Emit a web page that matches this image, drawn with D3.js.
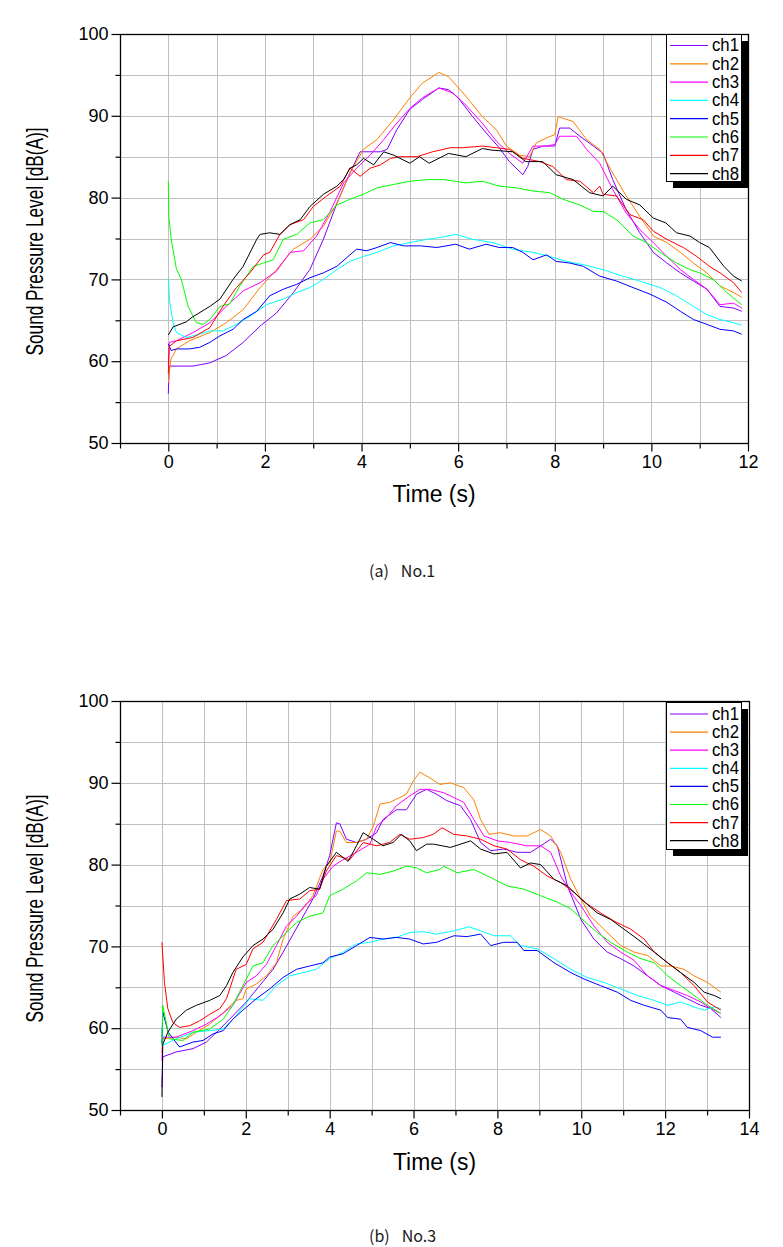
<!DOCTYPE html>
<html><head><meta charset="utf-8">
<script src="https://cdn.jsdelivr.net/npm/d3@7"></script>
<style>body{margin:0;background:#fff} svg{display:block}</style>
</head><body>
<svg id="c" width="783" height="1247"></svg>
<script>
// ---------- shared labels ----------
const seriesNames = ["ch1","ch2","ch3","ch4","ch5","ch6","ch7","ch8"];
const seriesColors = ["#8000ff","#ff8000","#ff00ff","#00ffff","#0000ff","#00ff00","#ff0000","#000000"];
const yTickLabels = [50,60,70,80,90,100];
const xTickLabelsA = [0,2,4,6,8,10,12];
const xTickLabelsB = [0,2,4,6,8,10,12,14];
const yTitle = "Sound Pressure Level [dB(A)]";
const xTitle = "Time (s)";
const captionA = ["(a)","No.1"];
const captionB = ["(b)","No.3"];

// ---------- (a) No.1 ----------
const a_ch1_t = [0,0.02,0.51,0.86,1.2,1.55,1.9,2.24,2.59,2.93,3.21,3.49,3.76,3.97,4.18,4.39,4.53,4.73,5.0,5.26,5.6,5.8,6.0,6.3,6.58,6.85,7.06,7.34,7.44,7.55,7.76,8.0,8.1,8.31,8.52,8.8,9.0,9.2,9.48,9.76,10.04,10.32,10.6,10.87,11.15,11.42,11.7,11.87];
const a_ch1_v = [56,59.4,59.4,59.8,60.7,62.3,64.3,65.9,68.4,71.2,74.9,79.3,83,85.6,85.6,85.6,85.9,88.3,90.8,92,93.4,93.2,92.2,89.9,87.9,86.1,84.4,82.8,83.8,85.9,86.3,86.3,88.5,88.5,87.5,86.3,85.4,82.2,78.5,75.7,73.3,72,70.8,69.8,68.8,66.7,66.5,66.1];
const a_ch2_t = [0,0.05,0.17,0.44,0.86,1.2,1.55,1.9,2.24,2.59,2.93,3.21,3.49,3.76,4.04,4.32,4.66,5.0,5.26,5.6,5.8,6.16,6.5,6.79,7.0,7.27,7.48,7.62,7.83,8.0,8.07,8.17,8.38,8.66,8.93,9.2,9.48,9.76,10.04,10.32,10.6,10.87,11.15,11.42,11.7,11.87];
const a_ch2_v = [57.4,60.2,61.5,62.5,63.5,64.7,66.3,69,71.2,73.7,74.9,76.5,79.3,83,85.9,87.1,89.5,92.2,94,95.3,94.8,92.4,89.9,88.3,86.3,85.2,85,86.7,87.3,87.7,89.9,89.7,89.3,87.1,85.9,83,80.2,77.7,75.3,74.5,73.3,72,70.8,69.2,68.4,67.8];
const a_ch3_t = [0,0.02,0.17,0.51,0.86,1.2,1.55,1.9,2.24,2.52,2.8,3.07,3.35,3.63,3.9,4.18,4.46,4.73,5.0,5.26,5.6,5.89,6.16,6.5,6.79,7.06,7.34,7.55,7.83,8.0,8.1,8.24,8.45,8.66,8.93,9.2,9.48,9.76,10.04,10.32,10.6,10.87,11.15,11.42,11.7,11.87];
const a_ch3_v = [59.5,62.3,62.5,63.5,64.7,66.7,68.6,69.6,71,73.3,73.5,75.3,78.3,81.8,83.6,85.2,87.1,89.1,90.9,92.2,93.4,92.8,91.3,89.1,86.9,85.4,84.2,86.3,86.3,86.5,87.5,87.5,87.5,85.9,84.2,81,78.1,76.1,74.5,72.8,71.2,70,68.8,66.9,67.1,66.5];
const a_ch4_t = [0,0.03,0.1,0.17,0.37,0.65,0.86,1.13,1.41,1.69,2.03,2.38,2.66,2.93,3.21,3.49,3.76,4.04,4.32,4.66,5.0,5.36,5.6,5.95,6.3,6.72,7.13,7.55,7.9,8.24,8.59,9.0,9.35,9.76,10.18,10.52,10.87,11.15,11.42,11.7,11.87];
const a_ch4_v = [70.2,67.2,64.7,63.5,62.9,63.3,63.7,63.7,64.5,65.5,66.9,67.6,68.4,69,70,71.2,72.2,72.8,73.3,74.1,74.5,74.9,75.1,75.5,74.9,74.5,73.7,73.3,72.8,72.2,71.8,71.2,70.5,69.8,69,68,66.7,65.7,65.1,64.7,64.4];
const a_ch5_t = [0,0.06,0.17,0.44,0.65,0.86,1.07,1.34,1.55,1.83,2.1,2.38,2.66,2.93,3.21,3.49,3.76,3.9,4.11,4.32,4.6,4.87,5.22,5.56,5.95,6.23,6.58,6.85,7.13,7.34,7.55,7.83,8.03,8.31,8.59,8.93,9.28,9.62,9.97,10.32,10.6,10.87,11.15,11.42,11.7,11.87];
const a_ch5_v = [62.1,61.3,61.5,61.5,61.7,62.3,63.1,63.9,65.1,66.1,68,68.8,69.4,70.2,70.8,71.6,73,73.7,73.5,73.9,74.5,74.1,74.1,73.9,74.3,73.7,74.3,73.9,73.9,73.3,72.4,73,72.2,72,71.6,70.4,69.8,69,68.2,67.2,66.1,65.1,64.5,63.9,63.7,63.3];
const a_ch6_t = [0,0.01,0.06,0.17,0.27,0.41,0.58,0.72,0.86,1.07,1.27,1.48,1.76,1.97,2.17,2.38,2.66,2.93,3.21,3.49,3.76,4.04,4.32,4.66,5.0,5.36,5.7,6.16,6.51,6.85,7.2,7.55,7.9,8.17,8.52,8.8,9.0,9.28,9.62,9.9,10.18,10.52,10.8,11.0,11.28,11.56,11.87];
const a_ch6_v = [82,77.7,74.9,71.2,70,66.7,64.7,64.5,65.1,66.7,67,69.2,71.6,72,72.4,74.9,75.5,76.9,77.3,79.1,79.8,80.4,81.2,81.6,82,82.2,82.2,81.8,82,81.4,81.2,80.8,80.6,79.8,79.1,78.3,78.3,77.3,75.3,74.5,73.3,72,71.2,70.8,70,68.4,66.9];
const a_ch7_t = [0,0.02,0.17,0.51,0.86,1.13,1.41,1.69,1.97,2.1,2.31,2.52,2.8,3.0,3.28,3.56,3.76,3.97,4.18,4.39,4.6,4.8,5.15,5.47,5.84,6.1,6.5,6.79,7.06,7.34,7.69,7.96,8.24,8.52,8.8,8.93,9.0,9.28,9.56,9.83,10.04,10.32,10.66,10.94,11.2,11.42,11.7,11.87];
const a_ch7_v = [58.5,61.8,62.5,62.9,64.1,66.7,69,70.8,73,73.3,75.5,76.7,77.3,78.9,80.2,81.4,83.6,82.6,83.6,84,84.8,85,85,85.6,86.1,86.1,86.3,86.1,85.9,84.8,84.4,83.8,82.2,82,80.6,81.4,80.4,80.2,77.9,77.3,75.9,74.9,73.9,72.8,71.6,70.8,69.6,68.4];
const a_ch8_t = [0,0.1,0.37,0.5,0.86,1.07,1.34,1.55,1.83,1.9,2.1,2.31,2.52,2.73,2.93,3.21,3.49,3.63,3.76,3.9,4.04,4.25,4.46,4.66,5.0,5.2,5.4,5.8,6.16,6.5,6.7,7.13,7.4,7.75,8.03,8.38,8.72,9.0,9.2,9.48,9.76,10.04,10.3,10.52,10.8,11.0,11.2,11.5,11.7,11.87];
const a_ch8_v = [63.2,64.2,64.8,65.4,66.7,67.6,70,71.6,74.9,75.5,75.7,75.5,76.7,77.3,78.9,80.4,81.4,82.2,83.6,84,84.8,84,85.6,85.2,84.2,85,84.2,85.4,85,86,85.8,85.6,84.4,84.4,82.8,82.2,80.6,80.2,81.4,79.8,79.1,77.5,76.9,75.7,75.3,74.5,73.9,71.6,70.4,69.8];

// ---------- (b) No.3 ----------
const b_ch1_t = [0,0.02,0.34,0.74,1.06,1.38,1.69,2.01,2.33,2.65,2.89,3.13,3.37,3.6,3.84,4.0,4.16,4.24,4.4,4.64,4.88,5.12,5.27,5.59,5.83,6.07,6.31,6.55,6.8,7.12,7.36,7.6,7.84,8.15,8.47,8.79,9.03,9.27,9.43,9.67,9.99,10.3,10.62,10.94,11.26,11.58,11.9,12.22,12.53,12.85,13.09,13.33];
const b_ch1_v = [52.8,56.5,57.1,57.5,58.3,59.9,61.5,63.2,65.2,67.2,69.3,71.5,73.7,75.8,78.6,81.1,85.1,85,83.1,82.7,83.1,83.9,85.5,86.7,86.7,88.6,89.2,88.6,87.8,87.2,85.5,82.7,81.7,81.9,81.5,81.5,82.3,83.1,82.3,77.4,73.3,70.9,69.3,68.5,67.6,66.4,65.2,64.4,63.6,62.8,62.4,61.3];
const b_ch2_t = [0,0.02,0.34,0.58,0.82,1.14,1.46,1.77,1.93,2.01,2.25,2.49,2.73,2.89,3.13,3.37,3.6,3.84,4.0,4.16,4.24,4.4,4.64,4.88,5.04,5.2,5.43,5.67,5.83,5.99,6.15,6.39,6.63,6.88,7.2,7.44,7.6,7.8,8.07,8.39,8.71,9.03,9.27,9.51,9.75,9.99,10.22,10.54,10.94,11.26,11.58,11.9,12.14,12.45,12.69,13.01,13.33];
const b_ch2_v = [57,58.7,58.9,58.7,59.5,60.5,61.9,63.4,63.6,64.8,65.4,66.4,68,70.9,73.7,74.6,76.2,79.4,80.2,84.1,84.1,82.7,82.7,83.1,84.7,87.4,87.6,88.2,88.6,90.2,91.3,90.6,89.8,90,89.4,87.9,85.5,83.7,83.9,83.5,83.5,84.3,83.5,81.5,78.2,75.8,73.7,72.1,70.1,69.3,68.9,67.6,67.6,67.2,66.4,65.6,64.4];
const b_ch3_t = [0,0.02,0.34,0.74,1.06,1.38,1.69,2.01,2.25,2.49,2.73,2.97,3.21,3.44,3.68,3.84,4.08,4.32,4.64,4.96,5.12,5.35,5.59,5.91,6.15,6.39,6.71,6.88,7.2,7.44,7.68,8.0,8.31,8.71,9.03,9.27,9.51,9.75,9.99,10.3,10.62,10.94,11.26,11.58,11.9,12.22,12.53,12.85,13.09,13.33];
const b_ch3_v = [56,58.9,58.9,59.7,60.5,61.5,62.8,65.6,66.4,67.8,70.1,72.5,73.7,75.2,76.2,78.2,79.8,80.6,81.5,82.5,84.7,85.7,87.2,88.4,89.2,89.2,88.8,88.4,87.6,85.5,83.5,82.9,82.7,82.3,82.3,81.5,78.6,76.6,75,72.5,70.5,69.3,68.3,66.4,65.2,64.6,64,63.2,62.4,61.8];
const b_ch4_t = [0,0.02,0.34,0.74,1.14,1.46,1.77,2.09,2.41,2.73,3.05,3.37,3.68,4.0,4.32,4.64,4.96,5.27,5.59,5.91,6.23,6.55,6.96,7.32,7.6,7.92,8.31,8.55,8.95,9.35,9.75,10.14,10.54,10.94,11.34,11.74,12.06,12.37,12.69,12.93,13.17,13.33];
const b_ch4_v = [60,57.9,58.7,59.5,59.7,59.9,61.5,63.6,63.4,65.2,66.4,66.8,67.2,68.5,69.3,70.3,70.5,70.9,71.1,71.7,71.8,71.5,71.9,72.4,71.9,71.3,71.3,70.1,69.7,68.5,67.2,66.2,65.6,64.8,64,63.4,62.8,63.2,62.6,62.2,62.6,62.4];
const b_ch5_t = [0,0.02,0.15,0.42,0.74,0.98,1.22,1.46,1.69,1.93,2.25,2.57,2.89,3.21,3.52,3.84,4.0,4.32,4.64,4.96,5.27,5.59,5.91,6.23,6.55,6.96,7.28,7.6,7.84,8.15,8.47,8.63,8.95,9.35,9.75,10.07,10.46,10.86,11.18,11.5,11.9,12.06,12.37,12.53,12.85,13.13,13.33];
const b_ch5_v = [58,62,59.5,57.7,58.3,58.5,59.3,59.7,61.1,62.2,63.6,64.8,66.2,67.2,67.6,68,68.7,69.1,70.1,71.1,70.9,71.1,70.9,70.3,70.5,71.3,71.2,71.5,70.1,70.5,70.5,69.5,69.5,68,66.8,66,65.2,64.4,63.4,62.8,62.2,61.3,61.1,60.1,59.7,58.9,58.9];
const b_ch6_t = [0,0.02,0.18,0.5,0.74,1.14,1.46,1.69,1.93,2.17,2.41,2.65,2.97,3.21,3.52,3.84,4.0,4.32,4.64,4.88,5.2,5.51,5.83,6.07,6.31,6.63,6.72,7.04,7.44,7.84,8.23,8.63,9.03,9.43,9.75,10.07,10.38,10.7,11.1,11.42,11.74,12.06,12.37,12.69,13.01,13.33];
const b_ch6_v = [58,62.8,58.7,58.5,59.5,59.9,61.1,62.8,65.2,67.6,68,70.1,71.7,72.9,73.7,74.1,76.2,77,78,79,78.8,79.2,79.8,79.6,79,79.4,79.8,79,79.4,78.4,77.4,77,76.2,75.4,74.6,73.1,71.7,70.5,69.3,68.5,68,66.4,65.2,64,62.8,61.8];
const b_ch7_t = [0,0.06,0.14,0.26,0.42,0.66,0.9,1.14,1.38,1.54,1.77,2.01,2.17,2.41,2.73,2.97,3.29,3.52,3.76,3.92,4.16,4.48,4.8,5.12,5.43,5.67,5.91,6.23,6.47,6.68,6.96,7.28,7.6,7.92,8.23,8.55,8.87,9.19,9.51,9.83,10.14,10.46,10.78,11.18,11.5,11.74,12.06,12.37,12.69,13.01,13.33];
const b_ch7_v = [70.5,65.6,62.4,60.7,60.1,60.3,60.9,61.7,62.4,63.6,67.2,67.8,69.7,70.5,73.3,75.6,75.8,76.8,77,79.2,81.1,80.6,82.7,82.3,82.7,83.7,83.1,83.3,83.7,84.5,83.7,83.5,83.1,82.3,81.9,80.6,79.8,78.6,77.8,76.6,75.2,74.1,73.1,72.1,70.9,69.3,68,66.8,65.2,63.2,62.2];
const b_ch8_t = [0,0.02,0.14,0.34,0.58,0.82,1.14,1.38,1.54,1.69,1.93,2.17,2.41,2.65,2.89,3.05,3.29,3.52,3.76,3.92,4.16,4.44,4.64,4.8,5.04,5.27,5.51,5.71,5.91,6.07,6.31,6.48,6.88,7.36,7.6,7.92,8.23,8.55,8.79,9.03,9.35,9.67,9.99,10.38,10.7,11.02,11.34,11.74,12.06,12.37,12.69,12.93,13.17,13.33];
const b_ch8_v = [51.6,58,59.5,61.1,62.2,62.8,63.4,64,65.2,66.8,68.7,70.1,70.9,72.1,74.1,75.8,76.4,77.2,77,79.8,81.5,80.4,82.3,83.9,83.1,82.3,82.7,83.7,82.9,81.7,82.5,82.5,82.1,82.9,81.9,81.3,81.5,79.6,80.2,80,78.2,77.4,75.8,74.1,73.3,72.1,70.9,69.3,68,66.8,65.6,64.4,64,63.6];

const seriesA = [[a_ch1_t,a_ch1_v],[a_ch2_t,a_ch2_v],[a_ch3_t,a_ch3_v],[a_ch4_t,a_ch4_v],[a_ch5_t,a_ch5_v],[a_ch6_t,a_ch6_v],[a_ch7_t,a_ch7_v],[a_ch8_t,a_ch8_v]];
const seriesB = [[b_ch1_t,b_ch1_v],[b_ch2_t,b_ch2_v],[b_ch3_t,b_ch3_v],[b_ch4_t,b_ch4_v],[b_ch5_t,b_ch5_v],[b_ch6_t,b_ch6_v],[b_ch7_t,b_ch7_v],[b_ch8_t,b_ch8_v]];

const svg = d3.select("#c");
const FONT = "'Liberation Sans', Arial, sans-serif";

function drawChart(cfg, series, xLabels, caption, id){
  const x = d3.scaleLinear().domain(cfg.xd).range([cfg.l, cfg.r]);
  const y = d3.scaleLinear().domain([50,100]).range([cfg.b, cfg.t]);
  const g = svg.append("g");

  // grid
  const xGrid = d3.range(cfg.xd[0]+1, cfg.xd[1]);
  const yGrid = d3.range(55, 100, 5);
  g.append("g").selectAll("line").data(xGrid).join("line")
    .attr("x1", d => Math.round(x(d))+0.5).attr("x2", d => Math.round(x(d))+0.5)
    .attr("y1", cfg.t).attr("y2", cfg.b).attr("stroke", "#c0c0c0").attr("stroke-width", 1);
  g.append("g").selectAll("line").data(yGrid).join("line")
    .attr("y1", d => Math.round(y(d))+0.5).attr("y2", d => Math.round(y(d))+0.5)
    .attr("x1", cfg.l).attr("x2", cfg.r).attr("stroke", "#c0c0c0").attr("stroke-width", 1);

  // clip
  svg.append("clipPath").attr("id", "clip"+id).append("rect")
    .attr("x", cfg.l).attr("y", cfg.t).attr("width", cfg.r-cfg.l).attr("height", cfg.b-cfg.t);

  const line = d3.line().x(d => x(d[0])).y(d => y(d[1]));
  const lg = g.append("g").attr("clip-path", "url(#clip"+id+")");
  series.forEach((s, i) => {
    const pts = s[0].map((t, k) => [t, s[1][k]]);
    lg.append("path").datum(pts).attr("d", line)
      .attr("fill", "none").attr("stroke", seriesColors[i]).attr("stroke-width", 1)
      .attr("stroke-linejoin", "round");
  });

  // box
  g.append("rect").attr("x", Math.round(cfg.l)+0.5).attr("y", Math.round(cfg.t)+0.5)
    .attr("width", Math.round(cfg.r)-Math.round(cfg.l)).attr("height", Math.round(cfg.b)-Math.round(cfg.t))
    .attr("fill", "none").attr("stroke", "#000").attr("stroke-width", 1.3);

  // y axis
  const yAx = g.append("g").attr("transform", `translate(${Math.round(cfg.l)+0.5},0)`)
    .call(d3.axisLeft(y).tickValues(yTickLabels).tickSize(9).tickSizeOuter(0).tickPadding(3).tickFormat(d3.format("d")));
  yAx.select(".domain").remove();
  yAx.selectAll("text").attr("font-family", FONT).attr("font-size", 18).attr("fill", "#000");
  yAx.selectAll("line").attr("stroke-width", 1.2);
  const yMin = g.append("g").attr("transform", `translate(${Math.round(cfg.l)+0.5},0)`)
    .call(d3.axisLeft(y).tickValues([55,65,75,85,95]).tickSize(5).tickFormat(""));
  yMin.select(".domain").remove();
  yMin.selectAll("line").attr("stroke-width", 1.2);

  // x axis
  const xAx = g.append("g").attr("transform", `translate(0,${Math.round(cfg.b)+0.5})`)
    .call(d3.axisBottom(x).tickValues(xLabels).tickSize(8).tickSizeOuter(0).tickPadding(4).tickFormat(d3.format("d")));
  xAx.select(".domain").remove();
  xAx.selectAll("text").attr("font-family", FONT).attr("font-size", 18).attr("fill", "#000");
  xAx.selectAll("line").attr("stroke-width", 1.2);
  const xMinor = d3.range(cfg.xd[0], cfg.xd[1]+1).filter(v => xLabels.indexOf(v) < 0);
  const xMin = g.append("g").attr("transform", `translate(0,${Math.round(cfg.b)+0.5})`)
    .call(d3.axisBottom(x).tickValues(xMinor).tickSize(5).tickFormat(""));
  xMin.select(".domain").remove();
  xMin.selectAll("line").attr("stroke-width", 1.2);

  // titles
  const cx = (cfg.l + cfg.r)/2, cy = (cfg.t + cfg.b)/2;
  g.append("text").attr("x", cx).attr("y", cfg.b + cfg.xTitleDy)
    .attr("text-anchor", "middle").attr("font-family", FONT).attr("font-size", 23)
    .attr("textLength", 83).attr("lengthAdjust", "spacingAndGlyphs").text(xTitle);
  g.append("text").attr("transform", `translate(${cfg.yTitleX},${cy + 3}) rotate(-90)`)
    .attr("text-anchor", "middle").attr("font-family", FONT).attr("font-size", 24)
    .attr("textLength", 228).attr("lengthAdjust", "spacingAndGlyphs").text(yTitle);

  // legend
  const L = cfg.leg;
  g.append("rect").attr("x", L.x + 7).attr("y", L.y + 7).attr("width", L.w).attr("height", L.h).attr("fill", "#000");
  g.append("rect").attr("x", L.x+0.5).attr("y", L.y+0.5).attr("width", L.w).attr("height", L.h)
    .attr("fill", "#fff").attr("stroke", "#000").attr("stroke-width", 1);
  const items = g.append("g").selectAll("g").data(seriesNames).join("g")
    .attr("transform", (d, i) => `translate(0,${L.y + L.first + i*L.step})`);
  items.append("line").attr("x1", L.x + 4).attr("x2", L.x + 42).attr("y1", 0.5).attr("y2", 0.5)
    .attr("stroke", (d, i) => seriesColors[i]).attr("stroke-width", 1.2);
  items.append("text").attr("x", L.x + 46).attr("y", 0).attr("dy", "0.36em")
    .attr("font-family", FONT).attr("font-size", 18)
    .attr("textLength", 27).attr("lengthAdjust", "spacingAndGlyphs").text(d => d);

  // caption
  const ct = svg.append("text").attr("x", cfg.capX).attr("y", cfg.capY)
    .attr("font-family", "'Noto Sans CJK KR', 'Noto Sans', sans-serif").attr("font-size", 16).attr("fill", "#1a1a1a");
  ct.append("tspan").text(caption[0]);
  ct.append("tspan").attr("dx", 12).text(caption[1]);
}

drawChart({xd:[-1,12], l:120, r:748, t:34, b:443, xTitleDy:59, yTitleX:43,
  leg:{x:666, y:34, w:75, h:147, first:11, step:18.3}, capX:369, capY:577},
  seriesA, xTickLabelsA, captionA, "A");
drawChart({xd:[-1,14], l:120, r:749, t:701, b:1110, xTitleDy:60, yTitleX:43,
  leg:{x:666, y:702, w:75, h:147, first:11.5, step:18.1}, capX:369, capY:1242},
  seriesB, xTickLabelsB, captionB, "B");
</script>
</body></html>
